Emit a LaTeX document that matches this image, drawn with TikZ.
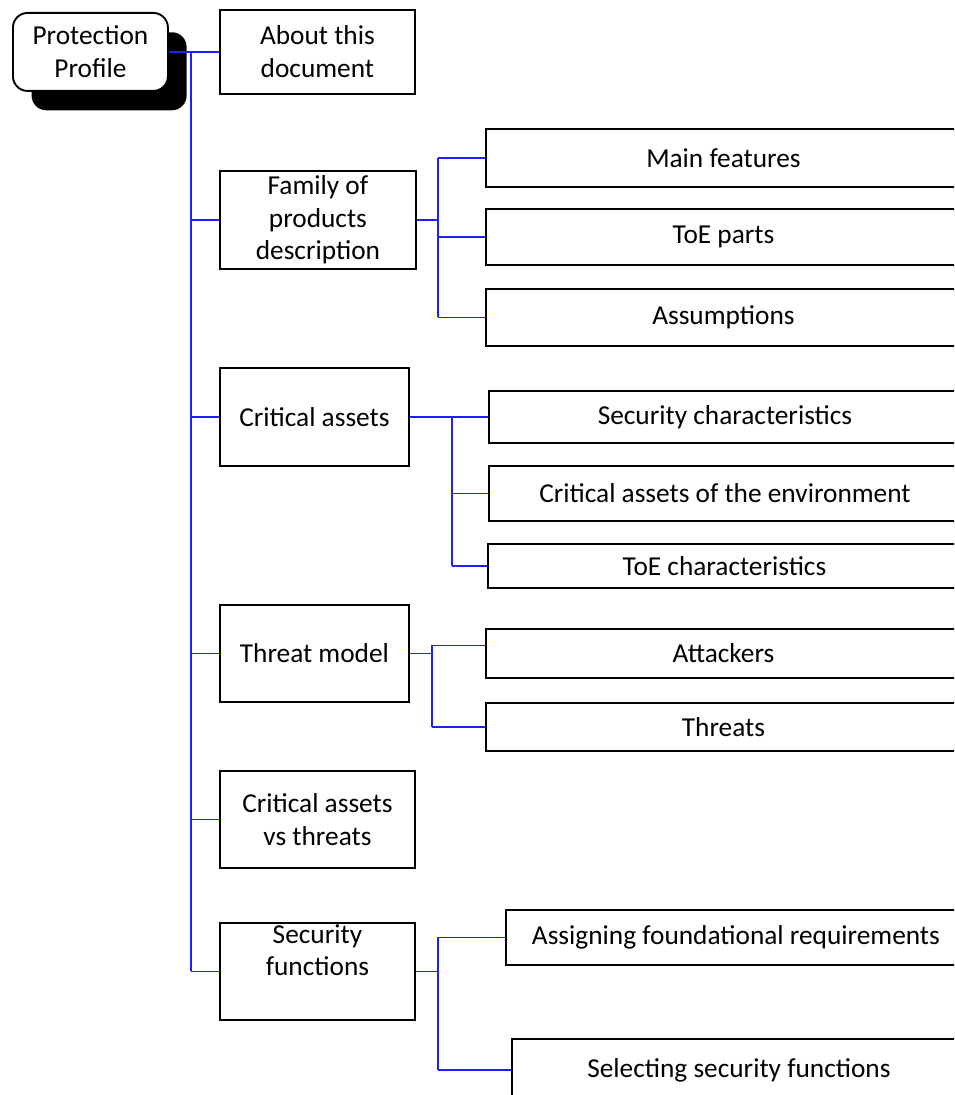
\documentclass[tikz,border=0pt]{standalone}
\usepackage{fontspec}
\setmainfont{Carlito}
\usetikzlibrary{shadows}
\definecolor{linkblue}{RGB}{30,30,255}
\begin{document}
\begin{tikzpicture}[x=0.75pt,y=-0.75pt,
  every node/.style={font=\fontsize{20.5}{24.5}\selectfont},
  box/.style={draw=black, line width=1.4pt, fill=white, anchor=north west,
              inner sep=0pt, align=center},
  wide/.style={box, minimum width=356.25pt},
  link/.style={draw=linkblue, line width=1.1pt}]
\useasboundingbox (0,0) rectangle (954,1095);
\clip (0,0) rectangle (954,1095);

% root of the outline
\node[box, rounded corners=11pt, minimum width=116.25pt, minimum height=58.5pt,
      drop shadow={shadow xshift=14pt, shadow yshift=-14.5pt, opacity=1, fill=black}]
      (root) at (12,12) {Protection\\Profile};

% chapters
\node[box, minimum width=146.25pt, minimum height=63pt]    (about) at (219,9)   {About this\\document};
\node[box, minimum width=147pt,    minimum height=73.5pt]  (fam)   at (219,170) {Family of\\products\\description};
\node[box, minimum width=141.75pt, minimum height=73.5pt]  (crit)  at (219,367) {Critical assets};
\node[box, minimum width=141.75pt, minimum height=72.75pt] (thr)   at (219,604) {Threat model};
\node[box, minimum width=146.25pt, minimum height=72.75pt] (cvt)   at (219,770) {Critical assets\\vs threats};
\node[box, minimum width=146.25pt, minimum height=72.75pt] (sf)    at (219,922) {Security\\functions\\\strut};

% sections
\node[wide, minimum height=43.5pt]  (mf) at (485,128) {Main features};
\node[wide, minimum height=42pt]    (tp) at (485,208) {ToE parts};
\node[wide, minimum height=42.75pt] (as) at (485,288) {Assumptions};

\node[box, minimum width=354pt,    minimum height=39pt]    (sc) at (488,390) {Security characteristics};
\node[box, minimum width=354pt,    minimum height=41.25pt] (ce) at (488,465) {Critical assets of the environment};
\node[box, minimum width=354.75pt, minimum height=33pt]    (tc) at (487,543) {ToE characteristics};

\node[wide, minimum height=36.75pt] (at) at (485,628) {Attackers};
\node[wide, minimum height=36pt]    (th) at (485,702) {Threats};

\node[box, minimum width=345pt,   minimum height=41.25pt] (ag) at (505,909)  {Assigning foundational requirements};
\node[box, minimum width=340.5pt, minimum height=46.5pt]  (sl) at (511,1038) {Selecting security functions};

% trunk and branch lines
\coordinate (t0) at (191,0);
\coordinate (b1) at (438,0);
\coordinate (b2) at (452,0);
\coordinate (b3) at (432,0);
\coordinate (b4) at (438,0);
\coordinate (atj) at ([yshift=6pt]at.west);

\draw[link] (root.east |- about.west) -- (about.west);
\draw[link] (t0 |- about.west) -- (t0 |- sf.west);
\foreach \n in {fam,crit,thr,cvt,sf}
  \draw[link] (t0 |- \n.west) -- (\n.west);

\draw[link] (fam.east) -- (b1 |- fam.east);
\draw[link] (b1 |- mf.west) -- (b1 |- as.west);
\foreach \n in {mf,tp,as}
  \draw[link] (b1 |- \n.west) -- (\n.west);

\draw[link] (crit.east) -- (sc.west |- crit.east);
\draw[link] (b2 |- crit.east) -- (b2 |- tc.west);
\foreach \n in {ce,tc}
  \draw[link] (b2 |- \n.west) -- (\n.west);

\draw[link] (thr.east) -- (b3 |- thr.east);
\draw[link] (b3 |- atj) -- (b3 |- th.west);
\draw[link] (b3 |- atj) -- (atj);
\draw[link] (b3 |- th.west) -- (th.west);

\draw[link] (sf.east) -- (b4 |- sf.east);
\draw[link] (b4 |- ag.west) -- (b4 |- sl.west);
\foreach \n in {ag,sl}
  \draw[link] (b4 |- \n.west) -- (\n.west);
\end{tikzpicture}
\end{document}
